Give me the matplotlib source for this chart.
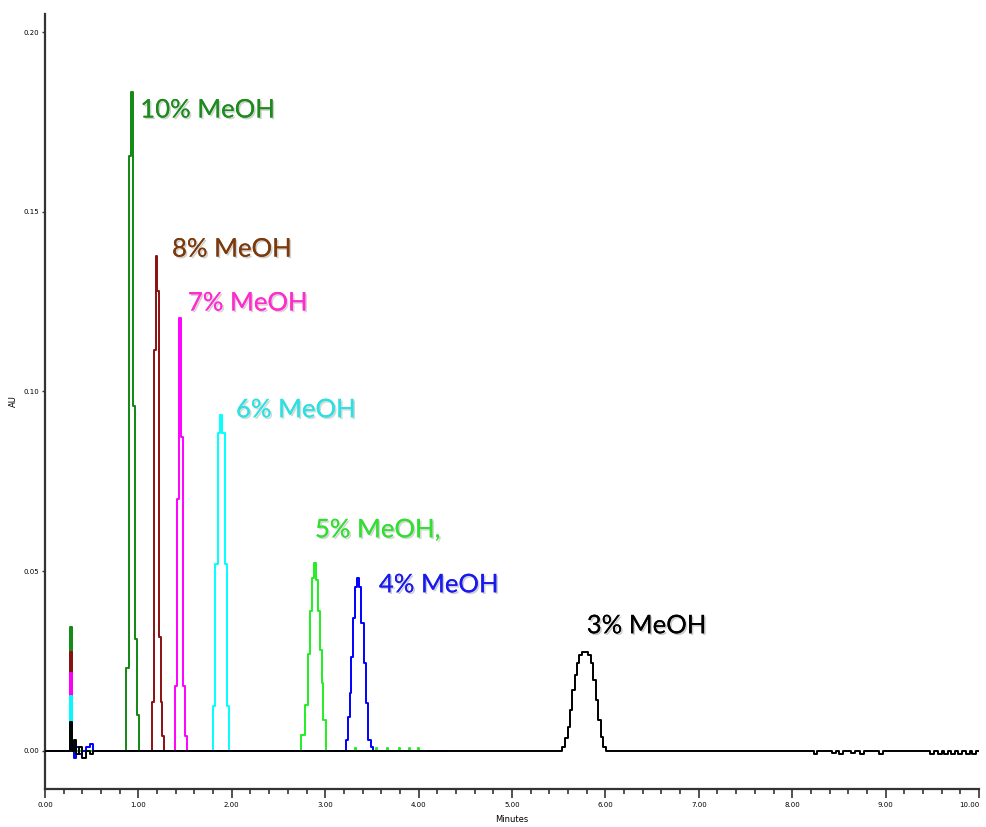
import numpy as np
import matplotlib
matplotlib.use("Agg")
from matplotlib import pyplot as plt
from matplotlib import patheffects as pe
from matplotlib.ticker import MultipleLocator

# labels / colours of each run (drawing order)
runs = ["10% MeOH", "8% MeOH", "7% MeOH", "6% MeOH", "5% MeOH,", "4% MeOH", "3% MeOH"]
line_colors = ["#118811", "#8b1010", "#ff00ff", "#00ffff", "#22ee22", "#0000ff", "#000000"]
text_colors = ["#1e8a1e", "#7a3a0c", "#ff2ccc", "#2ee0e0", "#33dd33", "#1a1aee", "#000000"]

# injection spike (minutes) and its height for every run
spike_t = [0.255, 0.275, 0.295]
spike_h = [0.0345, 0.0275, 0.0217, 0.0153, 0.0067, 0.0020, 0.0080]

# peak traces (minutes, AU)
t_10 = [0.86, 0.885, 0.91, 0.935, 0.955, 0.975, 0.995, 1.02]
y_10 = [0.0, 0.023, 0.1655, 0.1833, 0.096, 0.031, 0.010, 0.0]

t_8 = [1.13, 1.155, 1.175, 1.195, 1.21, 1.23, 1.245, 1.265, 1.29]
y_8 = [0.0, 0.0136, 0.1116, 0.1377, 0.128, 0.0317, 0.0136, 0.004, 0.0]

t_7 = [1.38, 1.40, 1.42, 1.445, 1.465, 1.485, 1.51, 1.53]
y_7 = [0.0, 0.018, 0.070, 0.1204, 0.0874, 0.018, 0.004, 0.0]

t_6 = [1.79, 1.81, 1.835, 1.86, 1.885, 1.91, 1.935, 1.96, 1.98]
y_6 = [0.0, 0.0125, 0.052, 0.0885, 0.0935, 0.0885, 0.052, 0.0125, 0.0]

t_5 = [2.71, 2.77, 2.805, 2.827, 2.848, 2.869, 2.891, 2.912, 2.934, 2.955, 2.97, 2.99, 3.02]
y_5 = [0.0, 0.0045, 0.0128, 0.027, 0.039, 0.048, 0.0523, 0.0475, 0.039, 0.028, 0.019, 0.0086, 0.0]

t_4 = [3.21, 3.235, 3.255, 3.27, 3.29, 3.31, 3.33, 3.35, 3.375, 3.40, 3.425, 3.45, 3.47, 3.50, 3.52]
y_4 = [0.0, 0.003, 0.0095, 0.016, 0.026, 0.037, 0.0456, 0.0481, 0.0456, 0.0356, 0.0245, 0.0134, 0.003, 0.001, 0.0]

t_3 = [5.52, 5.55, 5.58, 5.61, 5.635, 5.66, 5.685, 5.71, 5.735, 5.765, 5.80, 5.835, 5.86, 5.885, 5.91,
       5.935, 5.96, 5.99, 6.03]
y_3 = [0.0, 0.001, 0.0036, 0.0067, 0.0114, 0.017, 0.0211, 0.0245, 0.0267, 0.0275, 0.0275, 0.0267, 0.0245,
       0.0198, 0.0142, 0.0086, 0.0039, 0.001, 0.0]

peak_t = [t_10, t_8, t_7, t_6, t_5, t_4, t_3]
peak_y = [y_10, y_8, y_7, y_6, y_5, y_4, y_3]

# where each coloured trace stops (the black run goes to the end)
run_end = [2.0, 2.0, 2.5, 3.0, 4.3, 4.3, 10.0]

# small baseline wiggles after the spike (black / blue runs)
noise_t = [0.32, 0.35, 0.38, 0.42, 0.46, 0.50, 0.53]
noise_black = [0.003, -0.001, 0.001, -0.002, 0.0, -0.001, 0.0]
noise_blue = [-0.002, 0.001, -0.001, 0.0, 0.001, 0.002, 0.0]
# little green blips after the 5% peak
blip_t = [3.32, 3.55, 3.67, 3.80, 3.90, 4.00]
blip_green = [0.0008, 0.0008, 0.0008, 0.0008, 0.0008, 0.0008]
# dips below baseline at the end of the black run
tail_t = [8.25, 8.45, 8.52, 8.65, 8.75, 8.95, 9.5, 9.58, 9.65, 9.72, 9.8, 9.88, 9.95]
tail_black = [-0.0008, -0.0007, -0.0008, -0.0006, -0.0008, -0.0008, -0.0008, -0.001, -0.0009,
              -0.0008, -0.0009, -0.0008, -0.0008]

# label positions (minutes, AU) - left edge of text
label_x = [1.02, 1.36, 1.53, 2.045, 2.89, 3.575, 5.80]
label_y = [0.1783, 0.1396, 0.1246, 0.0949, 0.0615, 0.0462, 0.0348]


def add_blips(t, y, bt, by, half=0.012):
    for tb, vb in zip(bt, by):
        t += [tb - half, tb, tb + half]
        y += [0.0, vb, 0.0]


#%% figure
fig = plt.figure(figsize=(9.87, 8.27), dpi=100)
ax = fig.add_axes([0.0456, 0.046, 0.9463, 0.937])

for i, name in enumerate(runs):
    t = [0.0] + spike_t
    y = [0.0, 0.0, spike_h[i], 0.0]
    if name == "3% MeOH":
        t += noise_t
        y += noise_black
    elif name == "4% MeOH":
        t += noise_t
        y += noise_blue
    t += peak_t[i]
    y += peak_y[i]
    if name == "5% MeOH,":
        add_blips(t, y, blip_t, blip_green)
    if name == "3% MeOH":
        add_blips(t, y, tail_t, tail_black, half=0.04)
    t += [run_end[i]]
    y += [0.0]
    ax.plot(t, y, color=line_colors[i], lw=1.4, drawstyle="steps-mid", zorder=2 + i)

    ax.text(label_x[i], label_y[i], name, color=text_colors[i], fontsize=18.5, family="Lato",
            va="center", ha="left", zorder=20,
            path_effects=[pe.withSimplePatchShadow(offset=(1.2, -1.2), alpha=0.2), pe.Normal()])

ax.set_xlim(0, 10)
ax.set_ylim(-0.0106, 0.205)
ax.xaxis.set_major_locator(MultipleLocator(1))
ax.xaxis.set_minor_locator(MultipleLocator(0.2))
ax.set_xticks(np.arange(0, 11, 1.0))
ax.set_xticklabels([f"{v:.2f}" for v in np.arange(0, 11, 1.0)])
ax.get_xticklabels()[-1].set_ha("right")
ax.set_yticks([0.0, 0.05, 0.10, 0.15, 0.20])
ax.set_yticklabels(["0.00", "0.05", "0.10", "0.15", "0.20"])

for s in ["top", "right"]:
    ax.spines[s].set_visible(False)
for s in ["left", "bottom"]:
    ax.spines[s].set_color("#333333")
    ax.spines[s].set_linewidth(1.6)

ax.tick_params(axis="x", which="major", length=6.5, width=1.2, color="#333333", labelsize=5, pad=3)
ax.tick_params(axis="x", which="minor", length=3.5, width=1.2, color="#333333")
ax.tick_params(axis="y", which="major", length=2.5, width=1.0, color="#333333", labelsize=5, pad=2)

ax.set_xlabel("Minutes", fontsize=6, labelpad=5)
ax.set_ylabel("AU", fontsize=6, labelpad=4)

plt.savefig("out.png", dpi=100)
